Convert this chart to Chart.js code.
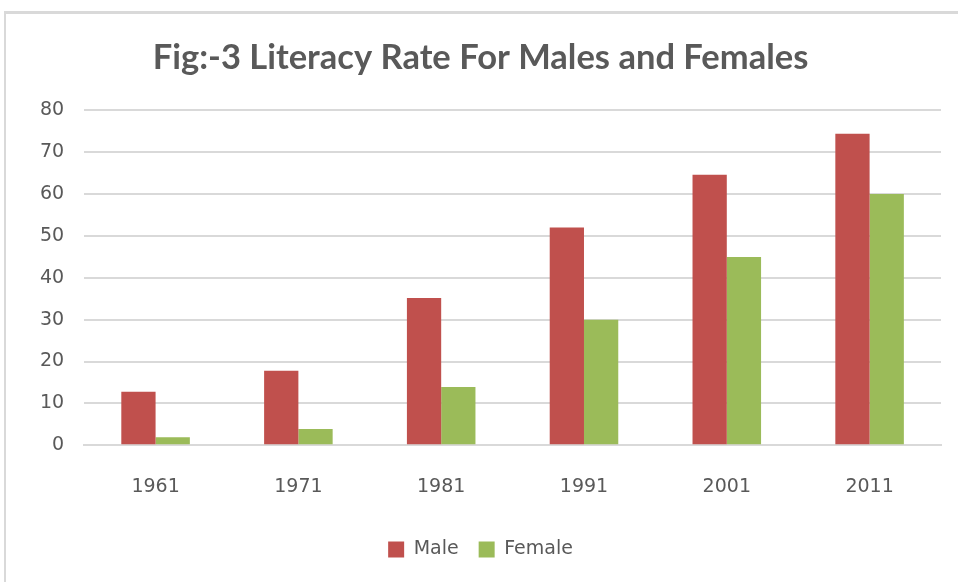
<!DOCTYPE html>
<html lang="en">
<head>
    <meta charset="UTF-8">
    <title>Literacy Rate</title>
    <style>
        html, body { margin: 0; padding: 0; background: #fff; }
        #wrap {
            position: absolute; left: 4px; top: 11px; width: 954px; height: 571px;
            border-top: 3px solid #d9d9d9; border-left: 2px solid #d9d9d9;
            box-sizing: border-box;
        }
    </style>
</head>
<body>
    <div id="wrap">
        <canvas id="myChart"></canvas>
    </div>

    <script src="https://cdn.jsdelivr.net/npm/chart.js"></script>

    <script>
        const years = ['1961', '1971', '1981', '1991', '2001', '2011'];
        const male = [12.8, 17.8, 35.2, 52.0, 64.6, 74.4];
        const female = [1.9, 3.9, 13.9, 30.0, 45.0, 60.0];
        const yTicks = [0, 10, 20, 30, 40, 50, 60, 70, 80];

        const textColor = '#595959';
        const gridColor = '#d9d9d9';

        const ctx = document.getElementById('myChart').getContext('2d');

        const myChart = new Chart(ctx, {
            type: 'bar',
            data: {
                labels: years,
                datasets: [
                    { label: 'Male', data: male, backgroundColor: '#c0504d' },
                    { label: 'Female', data: female, backgroundColor: '#9bbb59' }
                ]
            },
            options: {
                responsive: true,
                maintainAspectRatio: false,
                animation: false,
                layout: { padding: { left: 14, right: 17, top: 0, bottom: 13 } },
                datasets: {
                    bar: { categoryPercentage: 0.48, barPercentage: 1.0 }
                },
                scales: {
                    y: {
                        min: 0,
                        max: 80,
                        afterBuildTicks: axis => { axis.ticks = yTicks.map(v => ({ value: v })); },
                        border: { display: false },
                        grid: { color: gridColor, lineWidth: 2, drawTicks: false },
                        ticks: {
                            color: textColor,
                            padding: 20,
                            font: { family: 'DejaVu Sans', size: 19 }
                        }
                    },
                    x: {
                        border: { color: gridColor, width: 2 },
                        grid: { display: false },
                        ticks: {
                            color: textColor,
                            padding: 22,
                            font: { family: 'DejaVu Sans', size: 19 }
                        }
                    }
                },
                plugins: {
                    title: {
                        display: true,
                        text: 'Fig:-3 Literacy Rate For Males and Females',
                        color: textColor,
                        font: { family: 'Lato', size: 34.5, weight: 'bold' },
                        padding: { top: 23, bottom: 32 }
                    },
                    legend: {
                        position: 'bottom',
                        labels: {
                            color: textColor,
                            boxWidth: 16,
                            boxHeight: 16,
                            padding: 20,
                            font: { family: 'DejaVu Sans', size: 19 }
                        }
                    },
                    tooltip: { enabled: false }
                }
            }
        });
    </script>
</body>
</html>
